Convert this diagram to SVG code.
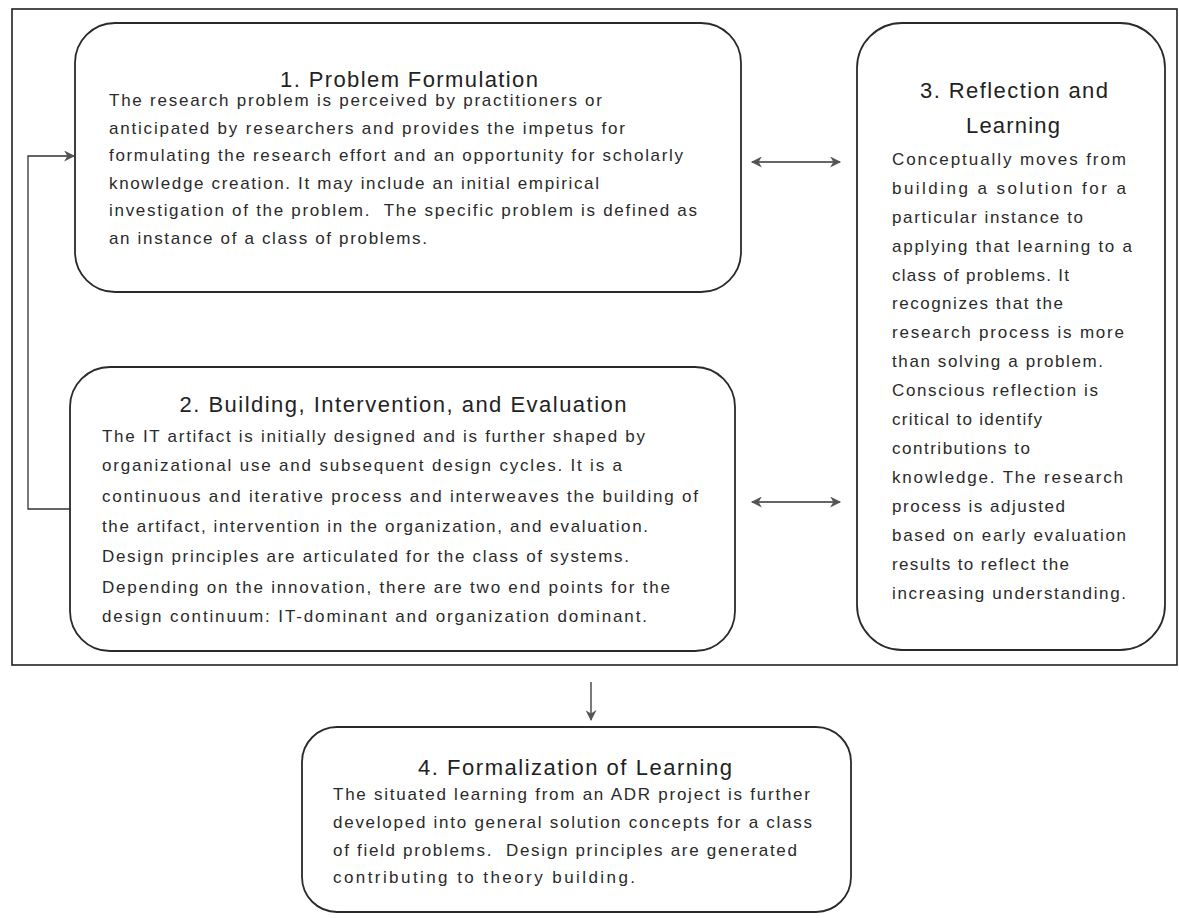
<svg xmlns="http://www.w3.org/2000/svg" width="1179" height="918" viewBox="0 0 1179 918">
<defs>
<style>
.frame{fill:none;stroke:#222;stroke-width:1.6}
.box{fill:#fff;stroke:#2a2a2a;stroke-width:1.8}
.title{font-family:"Liberation Sans",Arial,sans-serif;font-size:22px;fill:#222}
.body{font-family:"Liberation Sans",Arial,sans-serif;font-size:17px;fill:#2a2a2a}
.conn{fill:none;stroke:#333;stroke-width:1.3}
</style>
<marker id="ah" viewBox="0 0 10 10" refX="9" refY="5" markerWidth="12" markerHeight="11" markerUnits="userSpaceOnUse" orient="auto-start-reverse">
<path d="M0,0 L10,5 L0,10 L3,5 Z" fill="#555"/>
</marker>
</defs>
<rect width="1179" height="918" fill="#fff"/>
<rect class="frame" x="12" y="9" width="1165" height="656"/>
<g id="connectors">
<polyline class="conn" points="70,509 28,509 28,156 74,156" marker-end="url(#ah)"/>
<line class="conn" x1="752" y1="162" x2="840" y2="162" marker-start="url(#ah)" marker-end="url(#ah)"/>
<line class="conn" x1="752" y1="502" x2="840" y2="502" marker-start="url(#ah)" marker-end="url(#ah)"/>
<line class="conn" x1="591" y1="682" x2="591" y2="720" marker-end="url(#ah)"/>
</g>
<g id="node1">
<rect class="box" x="75" y="23" width="666" height="269" rx="40" ry="40"/>
<text class="title" x="409" y="87" text-anchor="middle" textLength="258" lengthAdjust="spacing">1. Problem Formulation</text>
<text class="body" x="109" y="106" textLength="493" lengthAdjust="spacing">The research problem is perceived by practitioners or</text>
<text class="body" x="109" y="134" textLength="516" lengthAdjust="spacing">anticipated by researchers and provides the impetus for</text>
<text class="body" x="109" y="161" textLength="574" lengthAdjust="spacing">formulating the research effort and an opportunity for scholarly</text>
<text class="body" x="109" y="189" textLength="490" lengthAdjust="spacing">knowledge creation. It may include an initial empirical</text>
<text class="body" x="109" y="216" textLength="588" lengthAdjust="spacing" xml:space="preserve">investigation of the problem.  The specific problem is defined as</text>
<text class="body" x="109" y="244" textLength="318" lengthAdjust="spacing">an instance of a class of problems.</text>
</g>
<g id="node2">
<rect class="box" x="70" y="367" width="665" height="284" rx="40" ry="40"/>
<text class="title" x="403" y="412" text-anchor="middle" textLength="447" lengthAdjust="spacing">2. Building, Intervention, and Evaluation</text>
<text class="body" x="102" y="442" textLength="543" lengthAdjust="spacing">The IT artifact is initially designed and is further shaped by</text>
<text class="body" x="102" y="471" textLength="520" lengthAdjust="spacing">organizational use and subsequent design cycles. It is a</text>
<text class="body" x="102" y="502" textLength="596" lengthAdjust="spacing">continuous and iterative process and interweaves the building of</text>
<text class="body" x="102" y="532" textLength="546" lengthAdjust="spacing">the artifact, intervention in the organization, and evaluation.</text>
<text class="body" x="102" y="562" textLength="527" lengthAdjust="spacing">Design principles are articulated for the class of systems.</text>
<text class="body" x="102" y="593" textLength="568" lengthAdjust="spacing">Depending on the innovation, there are two end points for the</text>
<text class="body" x="102" y="622" textLength="545" lengthAdjust="spacing">design continuum: IT-dominant and organization dominant.</text>
</g>
<g id="node3">
<rect class="box" x="857" y="23" width="308" height="627" rx="45" ry="45"/>
<text class="title" x="1014" y="98" text-anchor="middle" textLength="188" lengthAdjust="spacing">3. Reflection and</text>
<text class="title" x="1013" y="133" text-anchor="middle" textLength="94" lengthAdjust="spacing">Learning</text>
<text class="body" x="892" y="165" textLength="234" lengthAdjust="spacing">Conceptually moves from</text>
<text class="body" x="892" y="194" textLength="234" lengthAdjust="spacing">building a solution for a</text>
<text class="body" x="892" y="223" textLength="191" lengthAdjust="spacing">particular instance to</text>
<text class="body" x="892" y="252" textLength="240" lengthAdjust="spacing">applying that learning to a</text>
<text class="body" x="892" y="281" textLength="177" lengthAdjust="spacing">class of problems. It</text>
<text class="body" x="892" y="309" textLength="171" lengthAdjust="spacing">recognizes that the</text>
<text class="body" x="892" y="338" textLength="232" lengthAdjust="spacing">research process is more</text>
<text class="body" x="892" y="367" textLength="211" lengthAdjust="spacing">than solving a problem.</text>
<text class="body" x="892" y="396" textLength="206" lengthAdjust="spacing">Conscious reflection is</text>
<text class="body" x="892" y="425" textLength="150" lengthAdjust="spacing">critical to identify</text>
<text class="body" x="892" y="454" textLength="138" lengthAdjust="spacing">contributions to</text>
<text class="body" x="892" y="483" textLength="231" lengthAdjust="spacing">knowledge. The research</text>
<text class="body" x="892" y="512" textLength="173" lengthAdjust="spacing">process is adjusted</text>
<text class="body" x="892" y="541" textLength="234" lengthAdjust="spacing">based on early evaluation</text>
<text class="body" x="892" y="570" textLength="177" lengthAdjust="spacing">results to reflect the</text>
<text class="body" x="892" y="599" textLength="234" lengthAdjust="spacing">increasing understanding.</text>
</g>
<g id="node4">
<rect class="box" x="302" y="727" width="549" height="185" rx="35" ry="35"/>
<text class="title" x="575" y="775" text-anchor="middle" textLength="314" lengthAdjust="spacing">4. Formalization of Learning</text>
<text class="body" x="333" y="800" textLength="477" lengthAdjust="spacing">The situated learning from an ADR project is further</text>
<text class="body" x="333" y="828" textLength="479" lengthAdjust="spacing">developed into general solution concepts for a class</text>
<text class="body" x="333" y="856" textLength="464" lengthAdjust="spacing" xml:space="preserve">of field problems.  Design principles are generated</text>
<text class="body" x="333" y="883" textLength="302" lengthAdjust="spacing">contributing to theory building.</text>
</g>
</svg>
